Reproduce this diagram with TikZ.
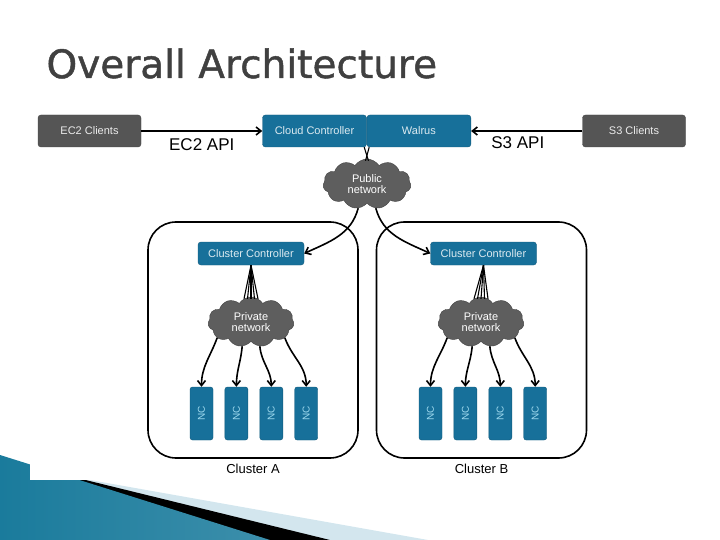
\documentclass[tikz,border=0pt]{standalone}
\usepackage{fontspec}
\setmainfont{Liberation Sans}
\newfontfamily\titlefont[FakeBold=1.2]{DejaVu Sans}
\usetikzlibrary{arrows.meta,positioning,calc,shapes.symbols}

\definecolor{boxblue}{HTML}{17709A}
\definecolor{boxgray}{HTML}{555555}
\definecolor{cloudgray}{HTML}{5E5E5E}
\definecolor{titlegray}{HTML}{404040}
\definecolor{swoopdark}{HTML}{1A7B9C}
\definecolor{swooplight}{HTML}{5DBAD8}
\definecolor{swoopstripe}{HTML}{D3E6EE}
\definecolor{nctext}{HTML}{9ED9EE}

\begin{document}
\begin{tikzpicture}[x=1pt, y=1pt,
  client/.style={rectangle, rounded corners=3pt, fill=boxgray, draw=boxgray!80!black, text=white!85!gray, minimum width=103pt, minimum height=32pt, font=\fontsize{11}{13}\selectfont},
  ctrl/.style={rectangle, rounded corners=3pt, fill=boxblue, draw=boxblue!80!black, text=white!85!boxblue, minimum width=104pt, minimum height=32pt, font=\fontsize{11}{13}\selectfont},
  cluster/.style={rectangle, rounded corners=28pt, draw, line width=1.6pt, minimum width=210pt, minimum height=236pt},
  net/.style={cloud, cloud puffs=11, cloud puff arc=115, aspect=1.8, fill=cloudgray, draw=cloudgray!70!black, text=white, minimum width=88pt, minimum height=50pt, inner sep=0pt, align=center, font=\fontsize{11}{11.5}\selectfont},
  nc/.style={rectangle, rounded corners=2.5pt, fill=boxblue, draw=boxblue!80!black, minimum width=23pt, minimum height=53pt, inner sep=0pt, text=nctext, font=\fontsize{10}{12}\selectfont},
  arrow/.style={-{Straight Barb[length=5pt,width=8pt]}, line width=1.6pt},
  link/.style={line width=1.1pt},
  caption/.style={font=\fontsize{13}{15}\selectfont}
]
\useasboundingbox (0,0) rectangle (720,-540);

% slide decoration
\fill[swoopstripe] (0,-464) -- (428,-540) -- (0,-540) -- cycle;
\fill[black] (0,-459) -- (330,-540) -- (0,-540) -- cycle;
\shade[left color=swoopdark, middle color=swooplight, right color=swoopdark!85] (0,-455) -- (270,-540) -- (0,-540) -- cycle;
\fill[white] (30,-100) rectangle (700,-480);

% title
\node[anchor=base west, text=titlegray, font=\titlefont\fontsize{39}{44}\selectfont] (title) at (43,-78) {Overall Architecture};

% top row
\node[client] (ec2) at (89.5,-131) {EC2 Clients};
\node[ctrl] (cc) at (314.5,-131) {Cloud Controller};
\node[ctrl, right=0pt of cc] (walrus) {Walrus};
\node[client] (s3) at (634,-131) {S3 Clients};
\draw[arrow] (ec2) -- node[midway, below=3pt, font=\fontsize{17}{19}\selectfont] (ec2api) {EC2 API} (cc);
\draw[arrow] (s3) -- node[pos=0.58, below=1pt, font=\fontsize{17}{19}\selectfont] (s3api) {S3 API} (walrus);

\node[net] (pub) at (367,-184) {Public\\network};
\draw[link] ($(cc.south east)+(-2.5,0)$) -- ($(pub.north)+(1.5,-2)$);
\draw[link] ($(walrus.south west)+(2.5,0)$) -- ($(pub.north)+(-1.5,-2)$);

% clusters
\node[cluster] (clA) at (253,-340) {};
\node[cluster] (clB) at (481.5,-340) {};
\node[caption, below=2pt of clA] (capA) {Cluster A};
\node[caption, below=2pt of clB] (capB) {Cluster B};

\node[ctrl, minimum width=106pt, minimum height=23pt] (ccA) at (251,-253.5) {Cluster Controller};
\node[ctrl, minimum width=106pt, minimum height=23pt] (ccB) at (483.5,-253.5) {Cluster Controller};
\draw[arrow] (pub.250) to[out=-105, in=25] (ccA.east);
\draw[arrow] (pub.290) to[out=-75, in=155] (ccB.west);

\node[net, minimum width=86pt] (privA) at (251,-322) {Private\\network};
\node[net, minimum width=86pt] (privB) at (481,-322) {Private\\network};

\foreach \cl in {A,B}
  \foreach \dx in {-7,-3.5,0,3.5,7}
    \draw[link] (cc\cl.south) -- ($(priv\cl.north)+(\dx,-2)$);

% node controllers
\node[nc] (ncA1) at (201.5,-413.5) {\rotatebox{90}{NC}};
\node[nc, right=11.5pt of ncA1] (ncA2) {\rotatebox{90}{NC}};
\node[nc, right=11.5pt of ncA2] (ncA3) {\rotatebox{90}{NC}};
\node[nc, right=11.5pt of ncA3] (ncA4) {\rotatebox{90}{NC}};
\node[nc] (ncB1) at (430.5,-413.5) {\rotatebox{90}{NC}};
\node[nc, right=11.5pt of ncB1] (ncB2) {\rotatebox{90}{NC}};
\node[nc, right=11.5pt of ncB2] (ncB3) {\rotatebox{90}{NC}};
\node[nc, right=11.5pt of ncB3] (ncB4) {\rotatebox{90}{NC}};

\foreach \cl in {A,B} {
  \draw[arrow] (priv\cl.205) to[out=-110, in=90] (nc\cl1.north);
  \draw[arrow] (priv\cl.250) to[out=-95, in=90] (nc\cl2.north);
  \draw[arrow] (priv\cl.290) to[out=-85, in=90] (nc\cl3.north);
  \draw[arrow] (priv\cl.335) to[out=-70, in=90] (nc\cl4.north);
}
\end{tikzpicture}
\end{document}
